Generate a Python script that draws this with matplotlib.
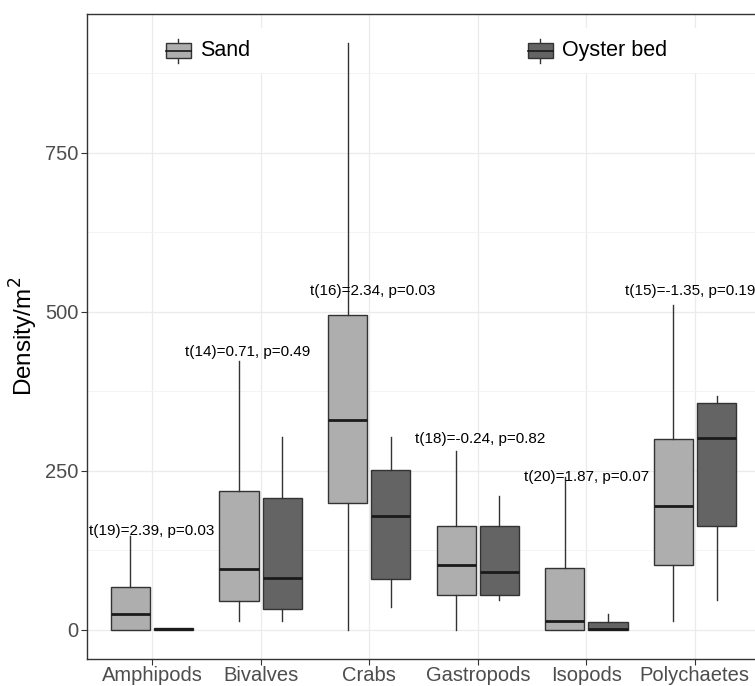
import matplotlib
matplotlib.use("Agg")
import matplotlib.pyplot as plt
import matplotlib.patches as patches
from matplotlib.lines import Line2D

plt.rcParams['font.family'] = ['Liberation Sans', 'DejaVu Sans']

categories = ["Amphipods", "Bivalves", "Crabs", "Gastropods", "Isopods", "Polychaetes"]

# sand: lower whisker, q1, median, q3, upper whisker
sand_low = [0, 14, 0, 0, 0, 14]
sand_q1 = [0, 45, 199, 55, 0, 102]
sand_med = [25, 96, 330, 102, 13, 195]
sand_q3 = [67, 218, 495, 163, 97, 300]
sand_high = [148, 422, 923, 281, 240, 510]

# oyster bed
oyster_low = [0, 14, 36, 47, 0, 47]
oyster_q1 = [0, 33, 80, 55, 0, 163]
oyster_med = [1, 82, 179, 91, 1, 301]
oyster_q3 = [2, 207, 251, 163, 12, 356]
oyster_high = [2, 303, 303, 210, 24, 367]

t_labels = ["t(19)=2.39, p=0.03", "t(14)=0.71, p=0.49", "t(16)=2.34, p=0.03",
            "t(18)=-0.24, p=0.82", "t(20)=1.87, p=0.07", "t(15)=-1.35, p=0.19"]
label_x = [1.0, 1.88, 3.03, 4.02, 5.0, 5.96]
label_y = [155, 436, 532, 300, 240, 532]

sand_col = "#AEAEAE"
oyster_col = "#646464"
edge_col = "#333333"


def make_stats(low, q1, med, q3, high):
    stats = []
    for i in range(len(low)):
        stats.append({"whislo": low[i], "q1": q1[i], "med": med[i],
                      "q3": q3[i], "whishi": high[i], "fliers": []})
    return stats


fig = plt.figure(figsize=(7.55, 6.86), dpi=100)
ax = fig.add_axes([87 / 755, 27 / 686, 673 / 755, 645 / 686])

pos = list(range(1, len(categories) + 1))
for stats, offset, col in [(make_stats(sand_low, sand_q1, sand_med, sand_q3, sand_high), -0.2, sand_col),
                           (make_stats(oyster_low, oyster_q1, oyster_med, oyster_q3, oyster_high), 0.2, oyster_col)]:
    ax.bxp(stats, positions=[p + offset for p in pos], widths=0.36, patch_artist=True,
           showcaps=False, showfliers=False, manage_ticks=False,
           boxprops=dict(facecolor=col, edgecolor=edge_col, linewidth=1.0),
           medianprops=dict(color="#1A1A1A", linewidth=2.0),
           whiskerprops=dict(color=edge_col, linewidth=1.0), zorder=3)

for txt, x, y in zip(t_labels, label_x, label_y):
    ax.text(x, y, txt, ha="center", va="center", fontsize=11, color="black", zorder=5)

ax.set_xlim(0.4, 6.6)
ax.set_ylim(-46, 968)
ax.set_xticks(pos)
ax.set_xticklabels(categories)
ax.set_yticks([0, 250, 500, 750])
ax.set_yticks([125, 375, 625, 875], minor=True)
ax.grid(which="major", color="#EBEBEB", linewidth=0.9, zorder=0)
ax.grid(which="minor", axis="y", color="#F2F2F2", linewidth=0.6, zorder=0)
ax.set_axisbelow(True)
ax.tick_params(axis="both", which="major", colors="#333333", labelcolor="#4D4D4D",
               length=4, width=0.8)
ax.tick_params(axis="y", which="major", pad=2, labelsize=14.5)
ax.tick_params(axis="x", which="major", pad=1, labelsize=14.5)
ax.tick_params(axis="y", which="minor", length=0)
for s in ax.spines.values():
    s.set_color("#333333")
    s.set_linewidth(1.0)
ax.set_ylabel("Density/m$^2$", fontsize=17.5, labelpad=4)

# legend keys drawn by hand, laid out along the top of the panel
key_y = 0.943
for x0, col, name, bg in [(0.117, sand_col, "Sand", (0.10, 0.27)),
                          (0.655, oyster_col, "Oyster bed", (0.64, 0.95))]:
    ax.add_patch(patches.Rectangle((bg[0], key_y - 0.035), bg[1] - bg[0], 0.07,
                                   transform=ax.transAxes, facecolor="white",
                                   edgecolor="none", zorder=4))
    xc = x0 + 0.0185
    ax.add_line(Line2D([xc, xc], [key_y - 0.019, key_y + 0.019], transform=ax.transAxes,
                       color=edge_col, linewidth=1.0, zorder=5))
    ax.add_patch(patches.Rectangle((x0, key_y - 0.0116), 0.037, 0.0232, transform=ax.transAxes,
                                   facecolor=col, edgecolor=edge_col, linewidth=1.0, zorder=6))
    ax.add_line(Line2D([x0, x0 + 0.037], [key_y, key_y], transform=ax.transAxes,
                       color="#1A1A1A", linewidth=1.2, zorder=7))
    ax.text(x0 + 0.051, key_y, name, transform=ax.transAxes, ha="left", va="center",
            fontsize=15.5, color="black", zorder=7)

fig.savefig("out.png", dpi=100)
